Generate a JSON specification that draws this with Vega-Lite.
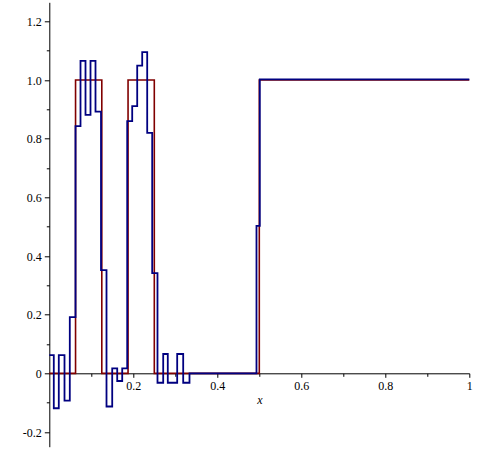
{
  "$schema": "https://vega.github.io/schema/vega-lite/v6.json",
  "autosize": {"type": "none"},
  "padding": {"left": 49.3, "top": 2.3, "right": 8.7, "bottom": 5.3},
  "width": 420,
  "height": 444.4,
  "config": {
    "view": {"stroke": null},
    "font": "Liberation Serif",
    "axis": {
      "grid": false,
      "domainColor": "#000000",
      "domainWidth": 1,
      "tickColor": "#000000",
      "labelColor": "#000000",
      "labelFont": "Liberation Serif",
      "labelFontSize": 12,
      "titleFont": "Liberation Serif",
      "titleFontWeight": "normal",
      "titleColor": "#000000"
    }
  },
  "datasets": {
    "red": [
      {"x": 0, "y": 0},
      {"x": 0.0625, "y": 1},
      {"x": 0.125, "y": 0},
      {"x": 0.1875, "y": 1},
      {"x": 0.25, "y": 0},
      {"x": 0.5, "y": 1},
      {"x": 1, "y": 1}
    ],
    "blue": [
      {"x": 0, "y": 0.062},
      {"x": 0.0107, "y": -0.119},
      {"x": 0.0226, "y": 0.062},
      {"x": 0.0362, "y": -0.093},
      {"x": 0.0488, "y": 0.192},
      {"x": 0.0624, "y": 0.843},
      {"x": 0.0743, "y": 1.065},
      {"x": 0.0862, "y": 0.881},
      {"x": 0.0981, "y": 1.065},
      {"x": 0.11, "y": 0.892},
      {"x": 0.1231, "y": 0.352},
      {"x": 0.1362, "y": -0.113},
      {"x": 0.1498, "y": 0.017},
      {"x": 0.1617, "y": -0.026},
      {"x": 0.1736, "y": 0.017},
      {"x": 0.1855, "y": 0.86},
      {"x": 0.1974, "y": 0.911},
      {"x": 0.2093, "y": 1.049},
      {"x": 0.2212, "y": 1.095},
      {"x": 0.2331, "y": 0.82},
      {"x": 0.245, "y": 0.342},
      {"x": 0.2576, "y": -0.032},
      {"x": 0.2712, "y": 0.066},
      {"x": 0.2821, "y": -0.032},
      {"x": 0.3045, "y": 0.066},
      {"x": 0.3188, "y": -0.032},
      {"x": 0.3338, "y": 0},
      {"x": 0.4933, "y": 0.503},
      {"x": 0.5012, "y": 1.002},
      {"x": 1, "y": 1.002}
    ]
  },
  "encoding": {
    "x": {
      "field": "x",
      "type": "quantitative",
      "scale": {"domain": [0, 1], "nice": false, "zero": false},
      "axis": {
        "title": "x",
        "titleFont": "Liberation Serif",
        "titleFontStyle": "italic",
        "titleFontSize": 12,
        "titlePadding": 3,
        "offset": -73.4,
        "values": [0.1, 0.2, 0.3, 0.4, 0.5, 0.6, 0.7, 0.8, 0.9, 1.0],
        "labelFont": "Liberation Serif",
        "labelFontSize": 12,
        "labelExpr": "round(datum.value*10) % 2 == 0 ? (datum.value == 1 ? '1' : format(datum.value, '.1f')) : ''",
        "tickSize": {"condition": {"test": "round(datum.value*10) % 2 == 0", "value": 4}, "value": 3},
        "labelPadding": 3,
        "labelFlush": false,
        "labelOverlap": false
      }
    },
    "y": {
      "field": "y",
      "type": "quantitative",
      "scale": {"domain": [-0.25, 1.265], "nice": false, "zero": false},
      "axis": {
        "title": null,
        "values": [-0.2, -0.1, 0, 0.1, 0.2, 0.3, 0.4, 0.5, 0.6, 0.7, 0.8, 0.9, 1.0, 1.1, 1.2],
        "labelFont": "Liberation Serif",
        "labelFontSize": 12,
        "labelExpr": "round(datum.value*10) % 2 == 0 ? (datum.value == 0 ? '0' : (datum.value < 0 ? '-' + format(-datum.value, '.1f') : format(datum.value, '.1f'))) : ''",
        "tickSize": {"condition": {"test": "round(datum.value*10) % 2 == 0", "value": 5}, "value": 3},
        "labelPadding": 3,
        "labelFlush": false,
        "labelOverlap": false
      }
    }
  },
  "layer": [
    {
      "data": {"name": "red"},
      "mark": {"type": "line", "interpolate": "step-after", "color": "#800000", "strokeWidth": 1.6}
    },
    {
      "data": {"name": "blue"},
      "mark": {"type": "line", "interpolate": "step-after", "color": "#000080", "strokeWidth": 1.8}
    }
  ]
}
